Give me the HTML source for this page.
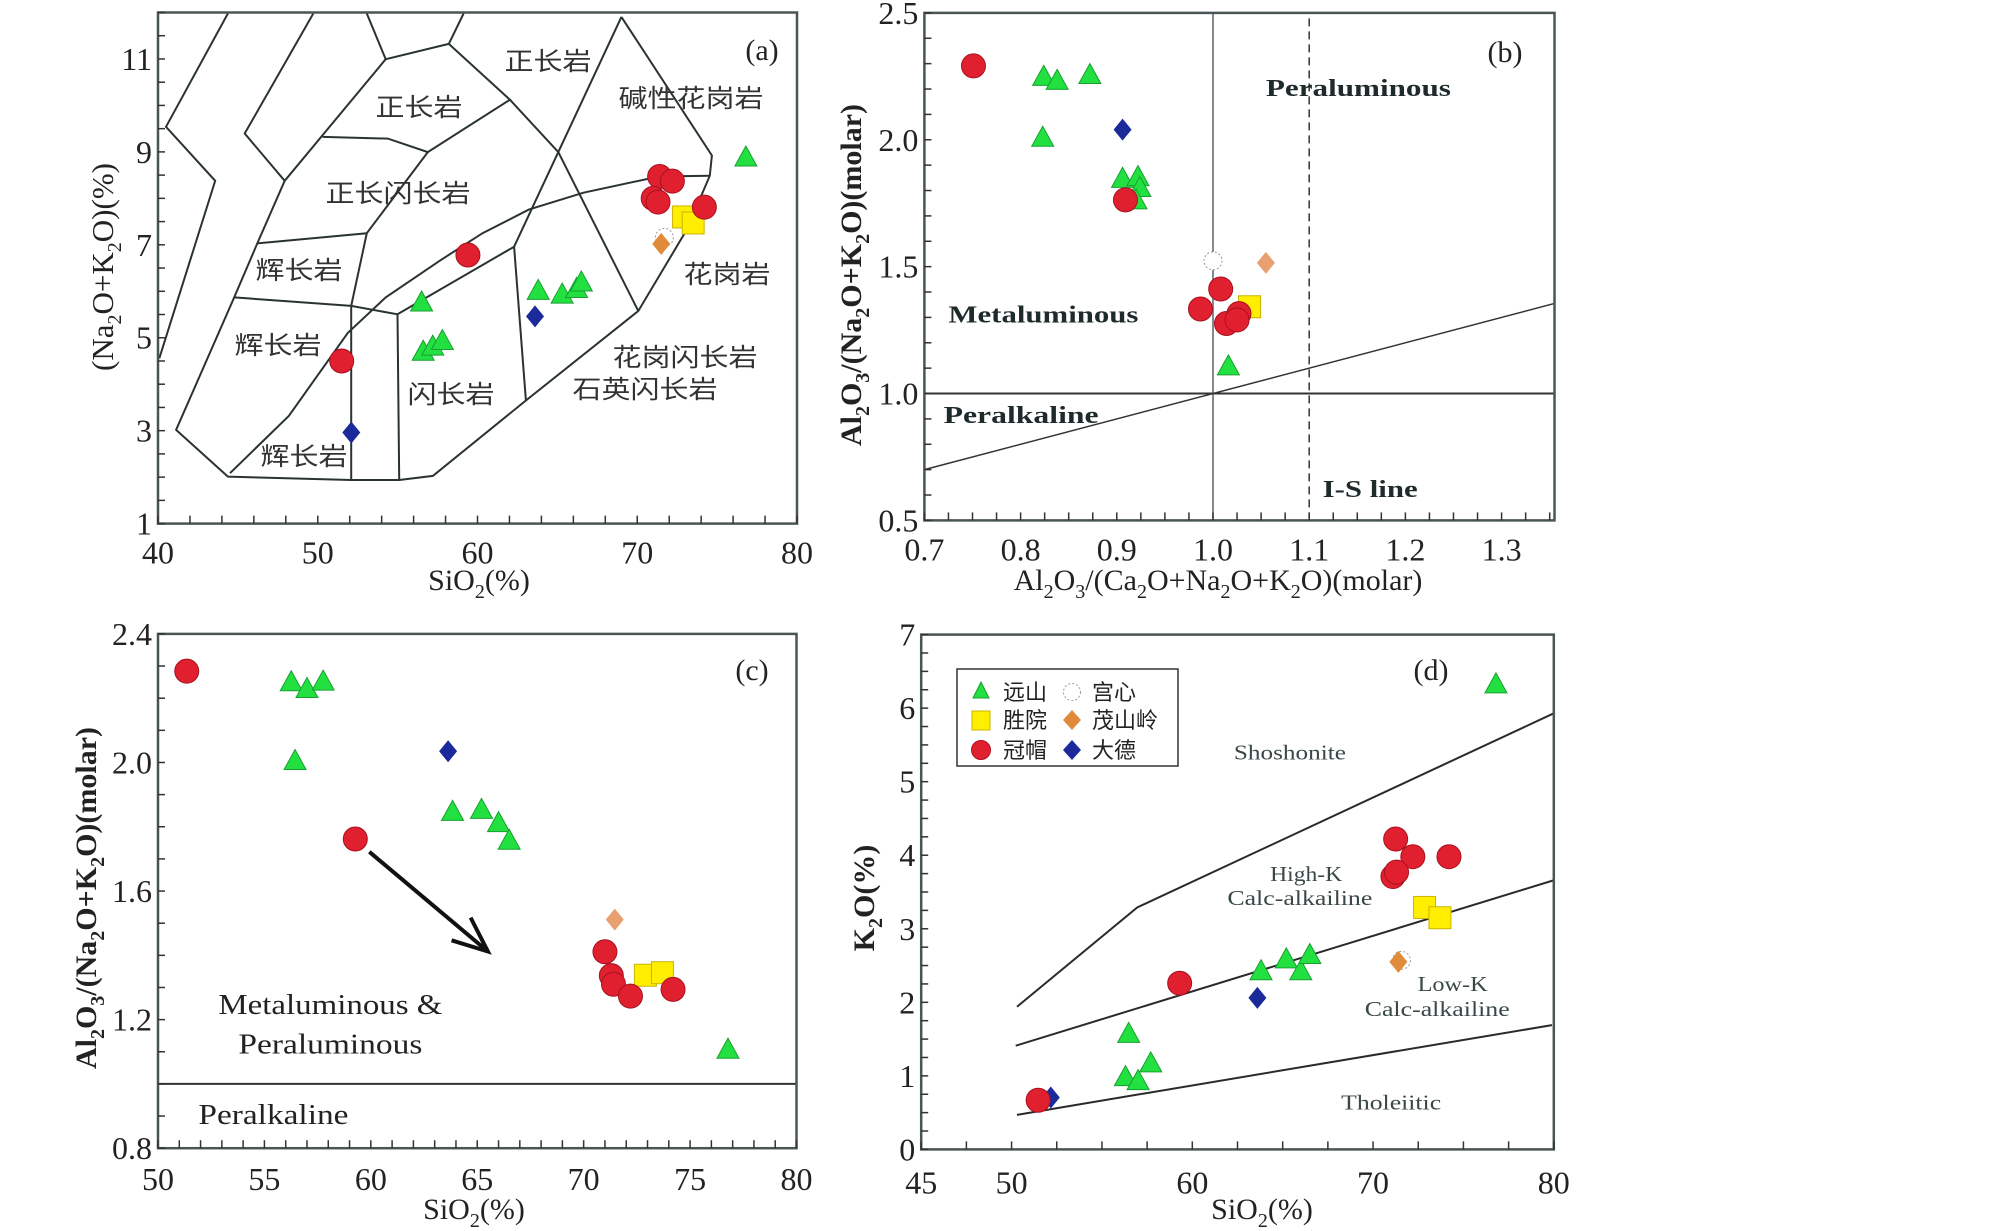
<!DOCTYPE html>
<html><head><meta charset="utf-8"><style>
html,body{margin:0;padding:0;background:#fff;}
svg{display:block;}
text{font-family:"Liberation Serif","Noto Serif CJK SC",serif;}
.cn{font-family:"Liberation Sans","Noto Sans CJK SC",sans-serif;}
</style></head><body>
<svg id="fig" width="2008" height="1231" viewBox="0 0 2008 1231" xmlns="http://www.w3.org/2000/svg">
<rect width="2008" height="1231" fill="#fff"/>
<g id="pa"></g>
<g id="pb"></g>
<g id="pc"></g>
<g id="pd"></g>

<!-- axis titles -->
<text x="479" y="590" font-size="30" text-anchor="middle" fill="#222">SiO<tspan font-size="20" dy="8">2</tspan><tspan dy="-8">(%)</tspan></text>
<text transform="translate(113,267) rotate(-90)" font-size="31" text-anchor="middle" fill="#222">(Na<tspan font-size="20" dy="8">2</tspan><tspan dy="-8">O+K</tspan><tspan font-size="20" dy="8">2</tspan><tspan dy="-8">O)(%)</tspan></text>
<text x="1218" y="590" font-size="30" text-anchor="middle" fill="#222">Al<tspan font-size="20" dy="8">2</tspan><tspan dy="-8">O</tspan><tspan font-size="20" dy="8">3</tspan><tspan dy="-8">/(Ca</tspan><tspan font-size="20" dy="8">2</tspan><tspan dy="-8">O+Na</tspan><tspan font-size="20" dy="8">2</tspan><tspan dy="-8">O+K</tspan><tspan font-size="20" dy="8">2</tspan><tspan dy="-8">O)(molar)</tspan></text>
<text transform="translate(861,275) rotate(-90)" font-size="30" font-weight="bold" text-anchor="middle" fill="#222">Al<tspan font-size="20" dy="8">2</tspan><tspan dy="-8">O</tspan><tspan font-size="20" dy="8">3</tspan><tspan dy="-8">/(Na</tspan><tspan font-size="20" dy="8">2</tspan><tspan dy="-8">O+K</tspan><tspan font-size="20" dy="8">2</tspan><tspan dy="-8">O)(molar)</tspan></text>
<text x="474" y="1219" font-size="30" text-anchor="middle" fill="#222">SiO<tspan font-size="20" dy="8">2</tspan><tspan dy="-8">(%)</tspan></text>
<text transform="translate(96,898) rotate(-90)" font-size="30" font-weight="bold" text-anchor="middle" fill="#222">Al<tspan font-size="20" dy="8">2</tspan><tspan dy="-8">O</tspan><tspan font-size="20" dy="8">3</tspan><tspan dy="-8">/(Na</tspan><tspan font-size="20" dy="8">2</tspan><tspan dy="-8">O+K</tspan><tspan font-size="20" dy="8">2</tspan><tspan dy="-8">O)(molar)</tspan></text>
<text x="1262" y="1219" font-size="30" text-anchor="middle" fill="#222">SiO<tspan font-size="20" dy="8">2</tspan><tspan dy="-8">(%)</tspan></text>
<text transform="translate(874,898) rotate(-90)" font-size="30" font-weight="bold" text-anchor="middle" fill="#222">K<tspan font-size="20" dy="8">2</tspan><tspan dy="-8">O(%)</tspan></text>

<!-- legend -->
<g>
<rect x="957" y="669" width="221" height="97" fill="#fff" stroke="#333" stroke-width="1.5"/>
<polygon points="981,682 973,698 989,698" fill="#22e040" stroke="#18a030"/>
<text class="cn" x="1003" y="700" font-size="22" fill="#222">远山</text>
<circle cx="1072" cy="692" r="8.5" fill="#fff" stroke="#999" stroke-dasharray="2,2"/>
<text class="cn" x="1092" y="700" font-size="22" fill="#222">宫心</text>
<rect x="972" y="711" width="18" height="19" fill="#ffee00" stroke="#c8b400"/>
<text class="cn" x="1003" y="728" font-size="22" fill="#222">胜院</text>
<polygon points="1072,710 1081,720 1072,730 1063,720" fill="#e08a3a"/>
<text class="cn" x="1092" y="728" font-size="22" fill="#222">茂山岭</text>
<circle cx="981" cy="750" r="9.5" fill="#e0202e" stroke="#b01020"/>
<text class="cn" x="1003" y="758" font-size="22" fill="#222">冠帽</text>
<polygon points="1072,740 1081,750 1072,760 1063,750" fill="#1a2a9a"/>
<text class="cn" x="1092" y="758" font-size="22" fill="#222">大德</text>
</g>
</svg>
<script>
// ===== Panel (a) TAS data =====
const aGreenX=[76.8,56.5,56.6,57.2,57.8,63.8,65.3,66.2,66.5];
const aGreenY=[8.89,5.77,4.71,4.82,4.94,6.02,5.94,6.06,6.2];
const aRedX=[51.5,59.4,71.4,72.2,71.0,71.3,74.2];
const aRedY=[4.5,6.78,8.47,8.37,8.0,7.92,7.81];
const aYellowX=[72.9,73.5];
const aYellowY=[7.6,7.47];
const aWhiteX=[71.7];
const aWhiteY=[7.16];
const aOrangeX=[71.5];
const aOrangeY=[7.02];
const aBlueX=[52.1,63.6];
const aBlueY=[2.96,5.46];
const aXTicks=[40,50,60,70,80];
const aYTicks=[1,3,5,7,9,11];
// ===== Panel (b) data =====
const bRedX=[0.751,0.909,1.008,0.987,1.014,1.027,1.025];
const bRedY=[2.291,1.763,1.412,1.333,1.276,1.315,1.29];
const bGreenX=[0.824,0.838,0.872,0.823,0.906,0.922,0.924,0.92,1.016];
const bGreenY=[2.25,2.234,2.257,2.01,1.848,1.855,1.812,1.763,1.109];
const bBlueX=[0.906];
const bBlueY=[2.04];
const bWhiteX=[1.0];
const bWhiteY=[1.523];
const bOrangeX=[1.055];
const bOrangeY=[1.515];
const bYellowX=[1.038];
const bYellowY=[1.342];
const bXTicks=[0.7,0.8,0.9,1.0,1.1,1.2,1.3];
const bYTicks=[0.5,1.0,1.5,2.0,2.5];
// ===== Panel (c) data =====
const cRedX=[51.35,59.27,71.0,71.3,71.4,72.2,74.2];
const cRedY=[2.284,1.762,1.411,1.337,1.31,1.273,1.294];
const cGreenX=[56.26,57.0,57.76,56.44,63.84,65.2,66.0,66.5,76.78];
const cGreenY=[2.251,2.23,2.253,2.006,1.848,1.854,1.813,1.758,1.108];
const cBlueX=[63.63];
const cBlueY=[2.035];
const cOrangeX=[71.46];
const cOrangeY=[1.511];
const cYellowX=[72.9,73.7];
const cYellowY=[1.338,1.346];
const cXTicks=[50,55,60,65,70,75,80];
const cYTicks=[0.8,1.2,1.6,2.0,2.4];
// ===== Panel (d) data =====
const dGreenX=[76.8,56.48,56.3,57.0,57.7,63.8,65.2,66.0,66.5];
const dGreenY=[6.33,1.577,0.99,0.935,1.176,2.43,2.59,2.43,2.65];
const dRedX=[71.25,72.2,74.2,71.1,71.3,59.3,51.47];
const dRedY=[4.22,3.98,3.98,3.71,3.77,2.26,0.668];
const dYellowX=[72.85,73.7];
const dYellowY=[3.29,3.15];
const dWhiteX=[71.57];
const dWhiteY=[2.57];
const dOrangeX=[71.4];
const dOrangeY=[2.55];
const dBlueX=[63.6,52.17];
const dBlueY=[2.06,0.706];
const dXTicks=[45,50,60,70,80];
const dYTicks=[0,1,2,3,4,5,6,7];
const dShoX=[50.3,56.95,80];
const dShoY=[1.94,3.29,5.93];
const dHkX=[50.23,80];
const dHkY=[1.41,3.66];
const dThX=[50.3,79.9];
const dThY=[0.47,1.69];

const NS='http://www.w3.org/2000/svg';
function E(tag,parent,attrs){const e=document.createElementNS(NS,tag);for(const k in attrs)e.setAttribute(k,attrs[k]);parent.appendChild(e);return e;}
function axis(x0,x1,xmin,xmax,y0,y1,ymin,ymax){
  return {sx:v=>x0+(v-xmin)/(xmax-xmin)*(x1-x0), sy:v=>y0-(v-ymin)/(ymax-ymin)*(y0-y1), x0,x1,y0,y1,xmin,xmax,ymin,ymax};
}
function frame(g,A,xMinor,yMinor,xT,yT,dec,prefix,labelDy){
  const r=E('rect',g,{x:A.x0,y:A.y1,width:A.x1-A.x0,height:A.y0-A.y1,fill:'none',stroke:'#4a5555','stroke-width':2.5});
  
  
  for(let v=A.xmin;v<=A.xmax+1e-9;v+=xMinor){
    const t=E('line',g,{x1:A.sx(v),x2:A.sx(v),y1:A.y0,y2:A.y0-8,stroke:'#333','stroke-width':1.5});
    
    
  }
  for(let v=A.ymin;v<=A.ymax+1e-9;v+=yMinor){
    const t=E('line',g,{x1:A.x0,x2:A.x0+7,y1:A.sy(v),y2:A.sy(v),stroke:'#333','stroke-width':1.5});
    
    
  }
  xT.forEach(v=>{
    const t=E('text',g,{x:A.sx(v),y:A.y0+labelDy,'font-size':32,'text-anchor':'middle',fill:'#222'});
    t.textContent=v.toFixed(dec[0]);
    
    
  });
  yT.forEach(v=>{
    const t=E('text',g,{x:A.x0-6,y:A.sy(v)+11,'font-size':32,'text-anchor':'end',fill:'#222'});
    t.textContent=v.toFixed(dec[1]);
    
    
  });
}
function tri(g,x,y,name){const e=E('polygon',g,{points:`${x},${y-11} ${x-11},${y+9} ${x+11},${y+9}`,fill:'#22e040',stroke:'#18a030','stroke-width':1});}
function circ(g,x,y,name){const e=E('ellipse',g,{cx:x,cy:y,rx:12,ry:12,fill:'#e0202e',stroke:'#a81020','stroke-width':1});}
function wcirc(g,x,y,name){const e=E('circle',g,{cx:x,cy:y,r:9,fill:'#fff',stroke:'#999','stroke-width':1,'stroke-dasharray':'2,2'});}
function sq(g,x,y,name){const e=E('rect',g,{x:x-11,y:y-11,width:22,height:22,fill:'#ffee00',stroke:'#c8b400','stroke-width':1});}
function dia(g,x,y,col,name){const e=E('polygon',g,{points:`${x},${y-11} ${x+9},${y} ${x},${y+11} ${x-9},${y}`,fill:col});}
function label(g,x,y,txt,size,opts,name){const t=E('text',g,Object.assign({x:x,y:y,'font-size':size,fill:'#222'},opts||{}));t.textContent=txt;return t;}
function plotAll(g,A,s,p){
  if(s.w) s.w[0].forEach((v,i)=>wcirc(g,A.sx(v),A.sy(s.w[1][i]),p+'-gongxin-point'));
  if(s.o) s.o[0].forEach((v,i)=>dia(g,A.sx(v),A.sy(s.o[1][i]),s.oc||'#e08a3a',p+'-maoshanling-point'));
  if(s.y) s.y[0].forEach((v,i)=>sq(g,A.sx(v),A.sy(s.y[1][i]),p+'-shengyuan-point'));
  if(s.g) s.g[0].forEach((v,i)=>tri(g,A.sx(v),A.sy(s.g[1][i]),p+'-yuanshan-point'));
  if(s.b) s.b[0].forEach((v,i)=>dia(g,A.sx(v),A.sy(s.b[1][i]),'#1a2a9a',p+'-dade-point'));
  if(s.r) s.r[0].forEach((v,i)=>circ(g,A.sx(v),A.sy(s.r[1][i]),p+'-guanmao-point'));
}

// ---------- Panel A ----------
(function(){
  const g=document.getElementById('pa');
  const A=axis(158,797,40,80,523.6,12.5,1,12);
  const Z=(p)=>p.map(q=>(150+q[0]/2.3758).toFixed(1)+','+(q[1]/2.9585).toFixed(1)).join(' ');
  const lines=[
   [[185,40],[38,375],[155,535],[22,1060]],
   [[388,40],[225,395],[320,535],[255,720],[200,880],[62,1272],[185,1410],[478,1420],[592,1420],[672,1408],[893,1185],[1160,920],[1275,680],[1330,520],[1335,460],[1120,50]],
   [[515,40],[560,175],[710,130],[745,40]],
   [[560,175],[320,535]],
   [[410,405],[565,410],[660,450],[855,295],[710,130]],
   [[855,295],[970,450],[1160,920]],
   [[1120,50],[970,450],[865,730],[893,1185]],
   [[660,450],[515,690],[478,905],[478,1420]],
   [[255,720],[515,690]],
   [[200,880],[478,905],[588,930],[592,1420]],
   [[588,930],[865,730]],
   [[190,1400],[330,1230],[470,985],[560,880],[690,770],[790,690],[900,620],[1030,570],[1180,530],[1230,522],[1330,520]]
  ];
  lines.forEach(l=>{const e=E('polyline',g,{points:Z(l),fill:'none',stroke:'#2a3333','stroke-width':2});
    
    });
  frame(g,A,2,0.5,aXTicks,aYTicks,[0,0],'panel-a',40);
  const cn=[['正长岩',548,61],['正长岩',419,107],['碱性花岗岩',691,98],['正长闪长岩',398,193],['辉长岩',299,270],['花岗岩',727,274],['辉长岩',278,345],['花岗闪长岩',685,357],['石英闪长岩',645,389],['闪长岩',451,394],['辉长岩',304,456]];
  cn.forEach(c=>{const t=label(g,c[1],c[2]+9,c[0],25,{'text-anchor':'middle','class':'cn',fill:'#333',textLength:c[0].length*29,lengthAdjust:'spacingAndGlyphs'},'tas-field-label');});
  label(g,762,60,'(a)',30,{'text-anchor':'middle'},'panel-a-tag');
  plotAll(g,A,{w:[aWhiteX,aWhiteY],o:[aOrangeX,aOrangeY],y:[aYellowX,aYellowY],g:[aGreenX,aGreenY],b:[aBlueX,aBlueY],r:[aRedX,aRedY]},'panel-a');
})();

// ---------- Panel B ----------
(function(){
  const g=document.getElementById('pb');
  const A=axis(924.4,1554.5,0.7,1.355,520.4,12.9,0.5,2.5);
  let e=E('line',g,{x1:A.sx(1),x2:A.sx(1),y1:A.y0,y2:A.y1,stroke:'#56646a','stroke-width':1.5});
  
  
  e=E('line',g,{x1:A.sx(1.1),x2:A.sx(1.1),y1:A.y0,y2:A.y1,stroke:'#333','stroke-width':1.5,'stroke-dasharray':'8,5'});
  
  
  e=E('line',g,{x1:A.x0,x2:A.x1,y1:A.sy(1),y2:A.sy(1),stroke:'#333','stroke-width':2});
  
  
  e=E('line',g,{x1:A.x0,x2:A.x1,y1:A.sy(0.7),y2:A.sy(1.355),stroke:'#333','stroke-width':1.5});
  
  
  frame(g,A,0.025,0.1,bXTicks,bYTicks,[1,1],'panel-b',40);
  const st={'font-weight':'bold',fill:'#1f2b2b',lengthAdjust:'spacingAndGlyphs'};
  label(g,A.sx(1.055),A.sy(2.207)+9,'Peraluminous',24,Object.assign({textLength:185},st),'peraluminous-label');
  label(g,A.sx(0.725),A.sy(1.315)+9,'Metaluminous',24,Object.assign({textLength:190},st),'metaluminous-label');
  label(g,A.sx(0.72),A.sy(0.92)+9,'Peralkaline',24,Object.assign({textLength:155},st),'peralkaline-label');
  label(g,A.sx(1.114),A.sy(0.627)+9,'I-S line',24,Object.assign({textLength:95},st),'i-s-line-label');
  label(g,1505,62,'(b)',30,{'text-anchor':'middle'},'panel-b-tag');
  plotAll(g,A,{w:[bWhiteX,bWhiteY],o:[bOrangeX,bOrangeY],oc:'#e8a070',y:[bYellowX,bYellowY],g:[bGreenX,bGreenY],b:[bBlueX,bBlueY],r:[bRedX,bRedY]},'panel-b');
})();

// ---------- Panel C ----------
(function(){
  const g=document.getElementById('pc');
  const A=axis(158,796.5,50,80,1148.2,633.9,0.8,2.4);
  let e=E('line',g,{x1:A.x0,x2:A.x1,y1:A.sy(1),y2:A.sy(1),stroke:'#333','stroke-width':2});
  
  
  frame(g,A,1,0.1,cXTicks,cYTicks,[0,1],'panel-c',42);
  label(g,A.sx(58.1),A.sy(1.249)+10,'Metaluminous &',29,{'text-anchor':'middle',textLength:224,lengthAdjust:'spacingAndGlyphs'},'metaluminous-peraluminous-label');
  label(g,A.sx(58.1),A.sy(1.126)+10,'Peraluminous',29,{'text-anchor':'middle',textLength:184,lengthAdjust:'spacingAndGlyphs'},'peraluminous-label');
  label(g,A.sx(51.9),A.sy(0.906)+10,'Peralkaline',29,{textLength:150,lengthAdjust:'spacingAndGlyphs'},'peralkaline-label');
  label(g,752,680,'(c)',30,{'text-anchor':'middle'},'panel-c-tag');
  const ax1=A.sx(59.93),ay1=A.sy(1.722),ax2=A.sx(65.5),ay2=A.sy(1.412);
  e=E('line',g,{x1:ax1,y1:ay1,x2:ax2,y2:ay2,stroke:'#111','stroke-width':4});
  
  
  const ang=Math.atan2(ay2-ay1,ax2-ax1),L=38;
  e=E('polyline',g,{points:`${ax2-L*Math.cos(ang-0.4)},${ay2-L*Math.sin(ang-0.4)} ${ax2},${ay2} ${ax2-L*Math.cos(ang+0.4)},${ay2-L*Math.sin(ang+0.4)}`,fill:'none',stroke:'#111','stroke-width':4});
  
  
  plotAll(g,A,{o:[cOrangeX,cOrangeY],oc:'#e8a070',y:[cYellowX,cYellowY],g:[cGreenX,cGreenY],b:[cBlueX,cBlueY],r:[cRedX,cRedY]},'panel-c');
})();

// ---------- Panel D ----------
(function(){
  const g=document.getElementById('pd');
  const A=axis(921.2,1553.8,45,80,1149.4,634.6,0,7);
  [[dShoX,dShoY,'shoshonite-boundary'],[dHkX,dHkY,'high-k-boundary'],[dThX,dThY,'tholeiitic-boundary']].forEach(s=>{
    const e=E('polyline',g,{points:s[0].map((v,i)=>A.sx(v)+','+A.sy(s[1][i])).join(' '),fill:'none',stroke:'#2a2a2a','stroke-width':2});
    
    
  });
  frame(g,A,2.5,0.25,dXTicks,dYTicks,[0,0],'panel-d',44);
  const st={'text-anchor':'middle',fill:'#3a4848',lengthAdjust:'spacingAndGlyphs'};
  label(g,A.sx(65.4),A.sy(5.41)+8,'Shoshonite',21,Object.assign({textLength:112},st),'shoshonite-label');
  label(g,A.sx(66.3),A.sy(3.76)+8,'High-K',21,Object.assign({textLength:72},st),'high-k-label');
  label(g,A.sx(65.95),A.sy(3.43)+8,'Calc-alkailine',21,Object.assign({textLength:145},st),'high-k-calc-alkaline-label');
  label(g,A.sx(74.4),A.sy(2.26)+8,'Low-K',21,Object.assign({textLength:70},st),'low-k-label');
  label(g,A.sx(73.55),A.sy(1.92)+8,'Calc-alkailine',21,Object.assign({textLength:145},st),'low-k-calc-alkaline-label');
  label(g,A.sx(71.0),A.sy(0.65)+8,'Tholeiitic',21,Object.assign({textLength:100},st),'tholeiitic-label');
  label(g,1431,680,'(d)',30,{'text-anchor':'middle'},'panel-d-tag');
  plotAll(g,A,{w:[dWhiteX,dWhiteY],o:[dOrangeX,dOrangeY],y:[dYellowX,dYellowY],g:[dGreenX,dGreenY],b:[dBlueX,dBlueY],r:[dRedX,dRedY]},'panel-d');
})();
</script>
</body></html>
